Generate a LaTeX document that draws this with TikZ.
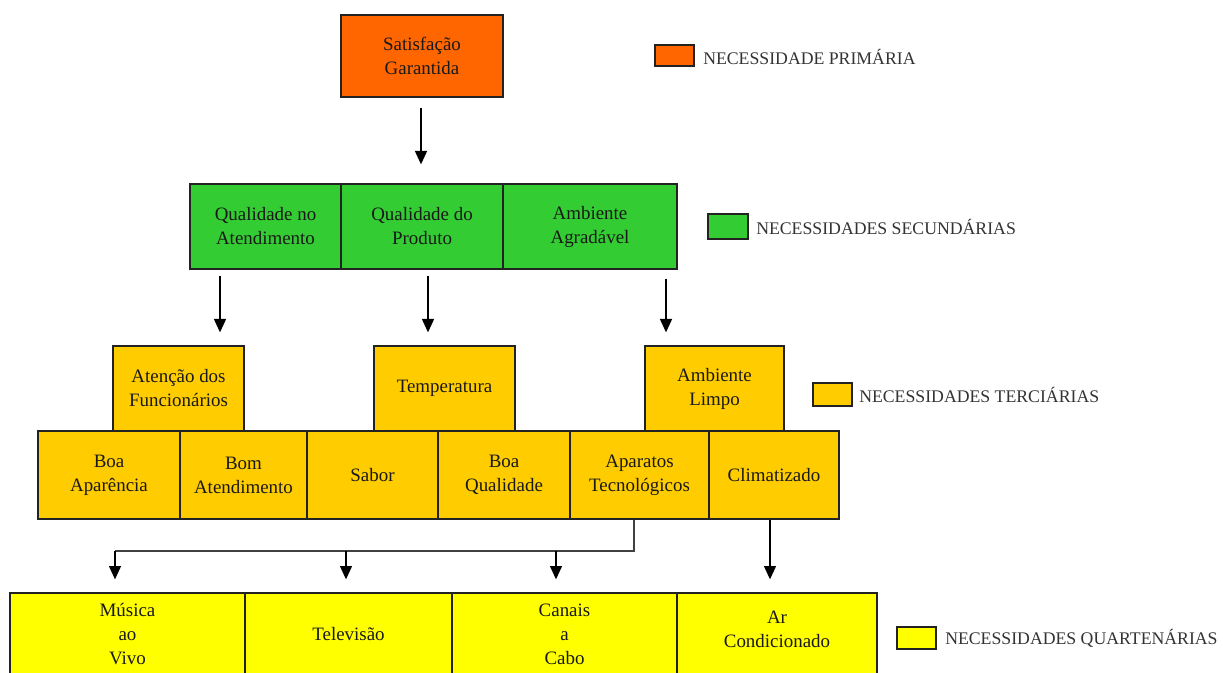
\documentclass[tikz,border=0pt]{standalone}
\usepackage{fontspec}
\setmainfont{Liberation Serif}
\usetikzlibrary{arrows.meta,calc}
\definecolor{cOrange}{HTML}{FF6600}
\definecolor{cGreen}{HTML}{33CC33}
\definecolor{cGold}{HTML}{FFCC00}
\definecolor{cYellow}{HTML}{FFFF00}
\definecolor{cLine}{HTML}{222222}
\begin{document}
\begin{tikzpicture}[x=0.75pt,y=-0.75pt,
  wh/.style 2 args={minimum width=#1*0.75pt, minimum height=#2*0.75pt},
  cell/.style={draw=cLine, line width=1pt, inner sep=0pt, align=center,
    font=\fontsize{14.2pt}{18pt}\selectfont, text=black!90},
  legbox/.style={draw=cLine, line width=1.2pt, inner sep=0pt},
  legtext/.style={anchor=west, inner sep=0pt, font=\fontsize{13.3pt}{16pt}\selectfont, text=black!80},
  arr/.style={-{Triangle[width=9pt,length=10pt]}, line width=1pt, draw=black}]
\clip (0,0) rectangle (1223,673);
\fill[white] (0,0) rectangle (1223,673);

% primary
\node[cell, fill=cOrange, wh={162}{82}] (top) at (422,56) {Satisfação\\Garantida};

% secondary
\node[cell, fill=cGreen, wh={151}{85}] (q1) at (265.5,226.5) {Qualidade no\\Atendimento};
\node[cell, fill=cGreen, wh={162}{85}] (q2) at (422,226.5) {Qualidade do\\Produto};
\node[cell, fill=cGreen, wh={174}{85}] (q3) at (590,226.5) {Ambiente\\Agradável};

% tertiary upper
\node[cell, fill=cGold, wh={131}{85}] (at1) at (178.5,388.5) {Atenção dos\\Funcionários};
\node[cell, fill=cGold, wh={141}{85}] (temp) at (444.5,388.5) {Temperatura};
\node[cell, fill=cGold, wh={139}{85}] (amb) at (714.5,388.5) {Ambiente\\Limpo};

% tertiary lower
\node[cell, fill=cGold, wh={142}{88}] (boa) at (109,475) {Boa\\Aparência};
\node[cell, fill=cGold, wh={127}{88}] (bom) at (243.5,475) {Bom\\Atendimento};
\node[cell, fill=cGold, wh={131}{88}] (sab) at (372.5,475) {Sabor};
\node[cell, fill=cGold, wh={132}{88}] (bq) at (504,475) {Boa\\Qualidade};
\node[cell, fill=cGold, wh={139}{88}] (apa) at (639.5,475) {Aparatos\\Tecnológicos};
\node[cell, fill=cGold, wh={130}{88}] (clim) at (774,475) {Climatizado};

% quaternary
\node[cell, fill=cYellow, wh={235}{82}] (mus) at (127.5,634) {Música\\ao\\Vivo};
\node[cell, fill=cYellow, wh={207}{82}] (tv) at (348.5,634) {Televisão};
\node[cell, fill=cYellow, wh={225}{82}] (can) at (564.5,634) {Canais\\a\\Cabo};
\node[cell, fill=cYellow, wh={200}{82}] (ar) at (777,634) {};
\node[cell, draw=none, fill=none] (artxt) at (777,629) {Ar\\Condicionado};

% legend
\node[legbox, fill=cOrange, wh={39}{21}] (l1) at (674.5,55.5) {};
\node[legtext] (l1t) at (703,57) {NECESSIDADE PRIMÁRIA};
\node[legbox, fill=cGreen, wh={40}{25}] (l2) at (728,226.5) {};
\node[legtext] (l2t) at (756,226.5) {NECESSIDADES SECUNDÁRIAS};
\node[legbox, fill=cGold, wh={39}{23}] (l3) at (832.5,394.5) {};
\node[legtext] (l3t) at (859,395) {NECESSIDADES TERCIÁRIAS};
\node[legbox, fill=cYellow, wh={39}{22}] (l4) at (916.5,638) {};
\node[legtext] (l4t) at (945,638) {NECESSIDADES QUARTENÁRIAS};

% arrows
\draw[arr] ($(top.south)+(-1,10)$) -- ($(q2.north)+(-1,-19)$);
\draw[arr] ($(q1.south)+(-45.5,6)$) -- ($(at1.north)+(41.5,-13)$);
\draw[arr] ($(q2.south)+(6,6)$) -- ($(temp.north)+(-16.5,-13)$);
\draw[arr] ($(q3.south)+(76,9)$) -- ($(amb.north)+(-48.5,-13)$);

\coordinate (busR) at (634,551);
\coordinate (b1) at (115,551);
\coordinate (b2) at (346,551);
\coordinate (b3) at (556,551);
\draw[line width=1pt, draw=black!75] ($(apa.south)+(-5.5,0)$) -- (busR) -- (b1);
\draw[arr] (b1) -- ($(b1 |- mus.north)+(0,-13)$);
\draw[arr] (b2) -- ($(b2 |- tv.north)+(0,-13)$);
\draw[arr] (b3) -- ($(b3 |- can.north)+(0,-13)$);
\draw[arr] ($(clim.south)+(-4,0)$) -- ($(ar.north)+(-7,-13)$);
\end{tikzpicture}
\end{document}
